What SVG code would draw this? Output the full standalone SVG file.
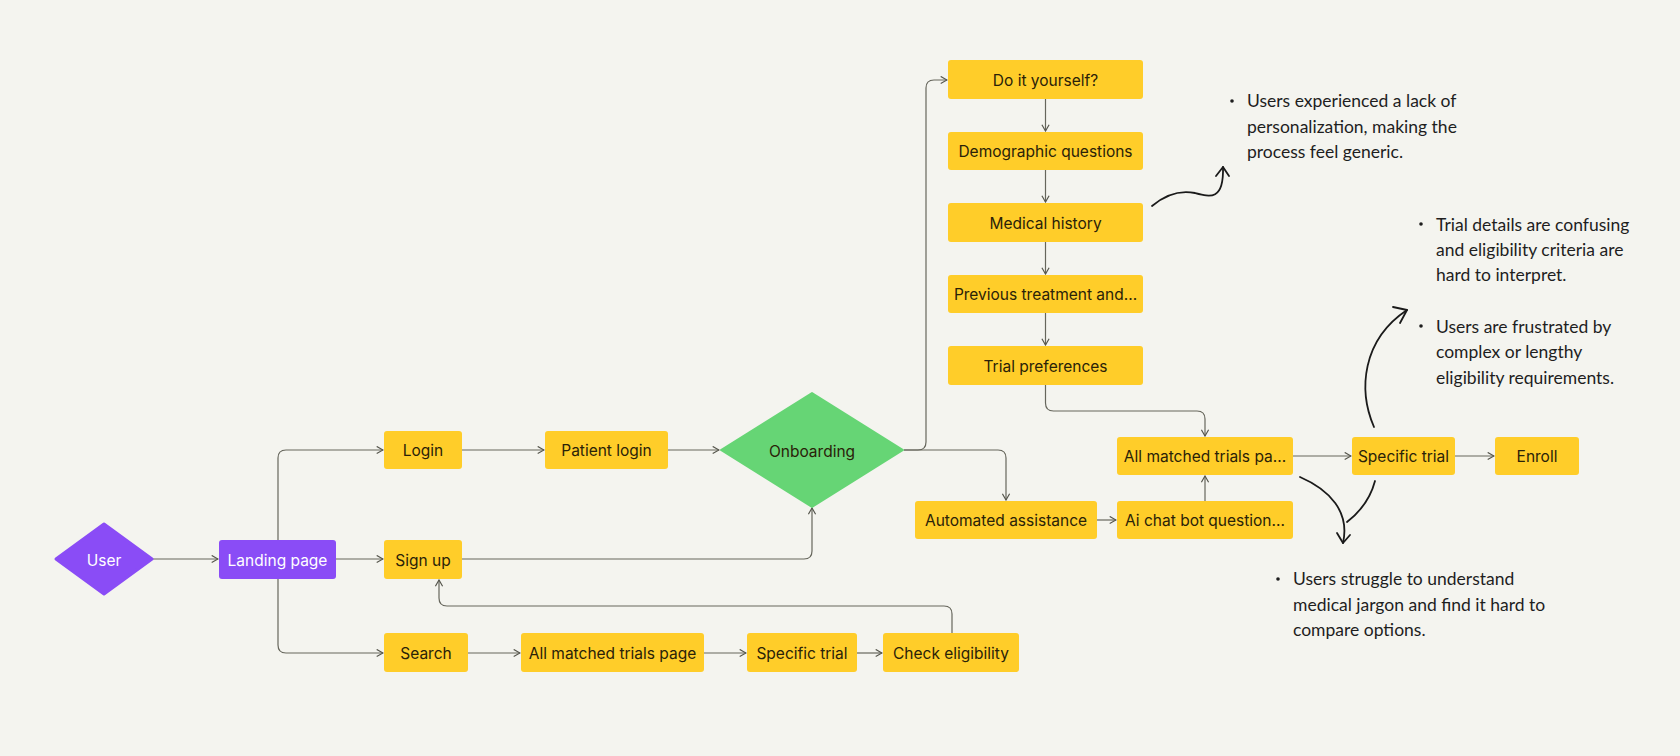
<svg xmlns="http://www.w3.org/2000/svg" width="1680" height="756" viewBox="0 0 1680 756">
<defs>
<style>
.y{fill:#ffcd29}
.p{fill:#8a4cf6}
.g{fill:#66d575}
.t{font-family:Inter,"Liberation Sans",sans-serif;font-size:15.5px;font-weight:400;fill:#2a2208;text-anchor:middle;dominant-baseline:central}
.tw{fill:#ffffff}
.c{fill:none;stroke:#66665c;stroke-width:1.2;marker-end:url(#ah)}
.h{fill:none;stroke:#1a1a1a;stroke-width:1.8;stroke-linecap:round;stroke-linejoin:round}
.n{font-family:Lato,"Open Sans",sans-serif;font-size:17.5px;fill:#1e1e1e}
</style>
<marker id="ah" viewBox="0 0 10 10" refX="9" refY="5" markerWidth="9" markerHeight="9" markerUnits="userSpaceOnUse" orient="auto">
<path d="M2,1 L9,5 L2,9" fill="none" stroke="#55554c" stroke-width="1.3"/>
</marker>
</defs>
<rect width="1680" height="756" fill="#f4f4ef"/>

<g id="connectors">
<path class="c" d="M153,559 H218"/>
<path class="c" d="M278,540 V458 Q278,450 286,450 H383"/>
<path class="c" d="M336,559 H383"/>
<path class="c" d="M278,579 V645 Q278,653 286,653 H383"/>
<path class="c" d="M462,450 H544"/>
<path class="c" d="M668,450 H719"/>
<path class="c" d="M462,559 H804 Q812,559 812,551 V508"/>
<path class="c" d="M468,653 H520"/>
<path class="c" d="M704,653 H746"/>
<path class="c" d="M857,653 H882"/>
<path class="c" d="M952,633 V614 Q952,606 944,606 H447 Q439,606 439,598 V580"/>
<path class="c" d="M904,450 H918 Q926,450 926,442 V88 Q926,80 934,80 H947"/>
<path class="c" d="M904,450 H998 Q1006,450 1006,458 V500"/>
<path class="c" d="M1045.5,99 V131"/>
<path class="c" d="M1045.5,170 V202"/>
<path class="c" d="M1045.5,242 V274"/>
<path class="c" d="M1045.5,313 V345"/>
<path class="c" d="M1045.5,385 V403 Q1045.5,411 1053.5,411 H1197 Q1205,411 1205,419 V436"/>
<path class="c" d="M1097,520 H1116"/>
<path class="c" d="M1205,501 V476"/>
<path class="c" d="M1293,456 H1351"/>
<path class="c" d="M1455,456 H1494"/>
</g>

<g id="sketch-arrows">
<path class="h" d="M1152,206 C1165,195 1180,190 1195,193 C1210,197 1224,201 1223,167"/>
<path class="h" d="M1216,176 L1223,167 L1229,176"/>
<path class="h" d="M1374,427 C1358,390 1362,340 1407,310"/>
<path class="h" d="M1393,307 L1407,310 L1400,323"/>
<path class="h" d="M1300,477 C1330,490 1350,512 1343,543"/>
<path class="h" d="M1375,481 C1370,500 1360,512 1347,522"/>
<path class="h" d="M1337,533 L1343,543 L1350,535"/>
</g>

<g id="user"><path class="p" d="M104,524 L152,559 L104,594 L56,559 Z" stroke="#8a4cf6" stroke-width="3" stroke-linejoin="round"/><text class="t tw" x="104" y="560">User</text></g>
<g id="landing"><rect class="p" x="219" y="540" width="117" height="39" rx="3"/><text class="t tw" x="277.5" y="560">Landing page</text></g>
<g id="login"><rect class="y" x="384" y="431" width="78" height="38" rx="3"/><text class="t" x="423" y="450">Login</text></g>
<g id="patient-login"><rect class="y" x="545" y="431" width="123" height="38" rx="3"/><text class="t" x="606.5" y="450">Patient login</text></g>
<g id="onboarding"><path class="g" d="M812,393 L903,450 L812,507 L721,450 Z" stroke="#66d575" stroke-width="2" stroke-linejoin="round"/><text class="t" x="812" y="451">Onboarding</text></g>
<g id="signup"><rect class="y" x="384" y="540" width="78" height="39" rx="3"/><text class="t" x="423" y="560">Sign up</text></g>
<g id="search"><rect class="y" x="384" y="633" width="84" height="39" rx="3"/><text class="t" x="426" y="653">Search</text></g>
<g id="all-matched-1"><rect class="y" x="521" y="633" width="183" height="39" rx="3"/><text class="t" x="612.5" y="653">All matched trials page</text></g>
<g id="specific-1"><rect class="y" x="747" y="633" width="110" height="39" rx="3"/><text class="t" x="802" y="653">Specific trial</text></g>
<g id="check"><rect class="y" x="883" y="633" width="136" height="39" rx="3"/><text class="t" x="951" y="653">Check eligibility</text></g>
<g id="diy"><rect class="y" x="948" y="60" width="195" height="39" rx="3"/><text class="t" x="1045.5" y="80">Do it yourself?</text></g>
<g id="demographic"><rect class="y" x="948" y="132" width="195" height="38" rx="3"/><text class="t" x="1045.5" y="151">Demographic questions</text></g>
<g id="medical"><rect class="y" x="948" y="203" width="195" height="39" rx="3"/><text class="t" x="1045.5" y="223">Medical history</text></g>
<g id="previous"><rect class="y" x="948" y="275" width="195" height="38" rx="3"/><text class="t" x="1045.5" y="294">Previous treatment and...</text></g>
<g id="preferences"><rect class="y" x="948" y="346" width="195" height="39" rx="3"/><text class="t" x="1045.5" y="366">Trial preferences</text></g>
<g id="automated"><rect class="y" x="915" y="501" width="182" height="38" rx="3"/><text class="t" x="1006" y="520">Automated assistance</text></g>
<g id="aichat"><rect class="y" x="1117" y="501" width="176" height="38" rx="3"/><text class="t" x="1205" y="520">Ai chat bot question...</text></g>
<g id="all-matched-2"><rect class="y" x="1117" y="437" width="176" height="38" rx="3"/><text class="t" x="1205" y="456">All matched trials pa...</text></g>
<g id="specific-2"><rect class="y" x="1352" y="437" width="103" height="38" rx="3"/><text class="t" x="1403.5" y="456">Specific trial</text></g>
<g id="enroll"><rect class="y" x="1495" y="437" width="84" height="38" rx="3"/><text class="t" x="1537" y="456">Enroll</text></g>

<g id="note-1">
<circle cx="1232" cy="101" r="1.8" fill="#1e1e1e"/>
<text class="n" x="1247" y="107">Users experienced a lack of</text>
<text class="n" x="1247" y="133">personalization, making the</text>
<text class="n" x="1247" y="158">process feel generic.</text>
</g>
<g id="note-2">
<circle cx="1421" cy="224" r="1.8" fill="#1e1e1e"/>
<text class="n" x="1436" y="231">Trial details are confusing</text>
<text class="n" x="1436" y="256">and eligibility criteria are</text>
<text class="n" x="1436" y="281">hard to interpret.</text>
<circle cx="1421" cy="326" r="1.8" fill="#1e1e1e"/>
<text class="n" x="1436" y="333">Users are frustrated by</text>
<text class="n" x="1436" y="358">complex or lengthy</text>
<text class="n" x="1436" y="384">eligibility requirements.</text>
</g>
<g id="note-3">
<circle cx="1278" cy="579" r="1.8" fill="#1e1e1e"/>
<text class="n" x="1293" y="585">Users struggle to understand</text>
<text class="n" x="1293" y="611">medical jargon and find it hard to</text>
<text class="n" x="1293" y="636">compare options.</text>
</g>
</svg>
